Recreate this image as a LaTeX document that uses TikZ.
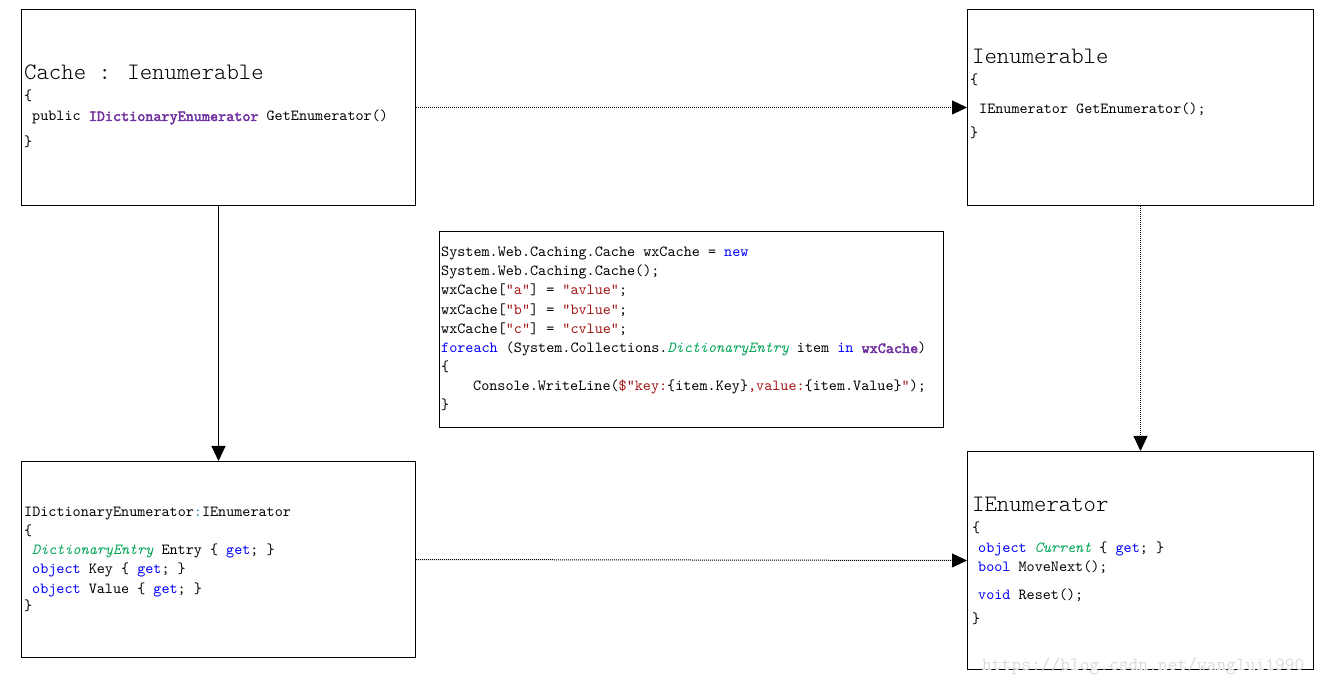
\documentclass[tikz,border=0pt]{standalone}
\usepackage{fontspec}
\setmonofont{lmmono10-regular.otf}[ItalicFont=lmmono10-italic.otf,BoldFont=lmmono10-regular.otf,BoldFeatures={FakeBold=2.5}]
\newfontfamily\lighttt{lmmonolt10-regular.otf}
\usetikzlibrary{arrows.meta}

\definecolor{kwblue}{RGB}{0,0,255}
\definecolor{typegreen}{RGB}{0,165,85}
\definecolor{strred}{RGB}{163,21,21}
\definecolor{refpurple}{RGB}{112,48,160}
\definecolor{colonteal}{RGB}{43,145,175}

\newcommand{\kwd}[1]{\textcolor{kwblue}{#1}}
\newcommand{\typ}[1]{\textcolor{typegreen}{\itshape #1}}
\newcommand{\strg}[1]{\textcolor{strred}{#1}}
\newcommand{\refb}[1]{\textcolor{refpurple}{\bfseries #1}}

\begin{document}
\begin{tikzpicture}[x=1pt,y=-1pt,
	box/.style={draw,line width=1pt,inner sep=0,anchor=north west},
	code/.style={inner sep=0,anchor=base west,font=\ttfamily\fontsize{15.4}{19}\selectfont},
	title/.style={inner sep=0,anchor=base west,font=\lighttt\fontsize{23.6}{28}\selectfont},
	link/.style={line width=1pt,-{Triangle[length=15pt,width=14pt]}},
	dots/.style={link,densely dotted}]
		\useasboundingbox (0,0) rectangle (1323,684);
		
		\node[box,minimum width=394pt,minimum height=196pt] (cache) at (21,9)   {};
		\node[box,minimum width=346pt,minimum height=196pt] (ienum) at (967,9)  {};
		\node[box,minimum width=504pt,minimum height=196pt] (demo)  at (439,231) {};
		\node[box,minimum width=394pt,minimum height=196pt] (dict)  at (21,461) {};
		\node[box,minimum width=346pt,minimum height=218pt] (ienumr) at (967,451) {};
		
		% Cache : Ienumerable
		\node[title] (a1) at (24,80)  {Cache : Ienumerable};
		\node[code]  (a2) at (24,101) {\{};
		\node[code]  (a3) at (32,121) {public \refb{IDictionaryEnumerator} GetEnumerator()};
		\node[code]  (a4) at (24,147) {\}};
		
		% Ienumerable
		\node[title] (b1) at (972,64)  {Ienumerable};
		\node[code]  (b2) at (970,85)  {\{};
		\node[code]  (b3) at (979,114) {IEnumerator GetEnumerator();};
		\node[code]  (b4) at (970,138) {\}};
		
		% usage
		\node[code] (c1) at (441,257) {System.Web.Caching.Cache wxCache = \kwd{new}};
		\node[code] (c2) at (441,276) {System.Web.Caching.Cache();};
		\node[code] (c3) at (441,295) {wxCache[\strg{"a"}] = \strg{"avlue"};};
		\node[code] (c4) at (441,315) {wxCache[\strg{"b"}] = \strg{"bvlue"};};
		\node[code] (c5) at (441,334) {wxCache[\strg{"c"}] = \strg{"cvlue"};};
		\node[code] (c6) at (441,353) {\kwd{foreach} (System.Collections.\typ{DictionaryEntry} item \kwd{in} \refb{wxCache})};
		\node[code] (c7) at (441,372) {\{};
		\node[code] (c8) at (473,391) {Console.WriteLine(\strg{\$"key:}\{item.Key\}\strg{,value:}\{item.Value\}\strg{"});};
		\node[code] (c9) at (441,410) {\}};
		
		% IDictionaryEnumerator
		\node[code] (d1) at (24,516) {IDictionaryEnumerator\textcolor{colonteal}{:}IEnumerator};
		\node[code] (d2) at (24,535) {\{};
		\node[code] (d3) at (32,554) {\typ{DictionaryEntry} Entry \{ \kwd{get}; \}};
		\node[code] (d4) at (32,573) {\kwd{object} Key \{ \kwd{get}; \}};
		\node[code] (d5) at (32,593) {\kwd{object} Value \{ \kwd{get}; \}};
		\node[code] (d6) at (24,610) {\}};
		
		% IEnumerator
		\node[title] (e1) at (972,511) {IEnumerator};
		\node[code]  (e2) at (972,532) {\{};
		\node[code]  (e3) at (978,552) {\kwd{object} \typ{Current} \{ \kwd{get}; \}};
		\node[code]  (e4) at (978,571) {\kwd{bool} MoveNext();};
		\node[code]  (e5) at (978,599) {\kwd{void} Reset();};
		\node[code]  (e6) at (972,623) {\}};
		
		\node[code,text=gray!28,font=\ttfamily\fontsize{18.6}{22}\selectfont] (mark) at (982,670) {https://blog.csdn.net/wanglui1990};
		
		\draw[dots] (cache.east)  -- (ienum.west);
		\draw[link] (cache.south) -- (dict.north);
		\draw[dots] (ienum.south) -- (ienumr.north);
		\draw[dots] (dict.east)   -- (ienumr.west);
		
\end{tikzpicture}
\end{document}
